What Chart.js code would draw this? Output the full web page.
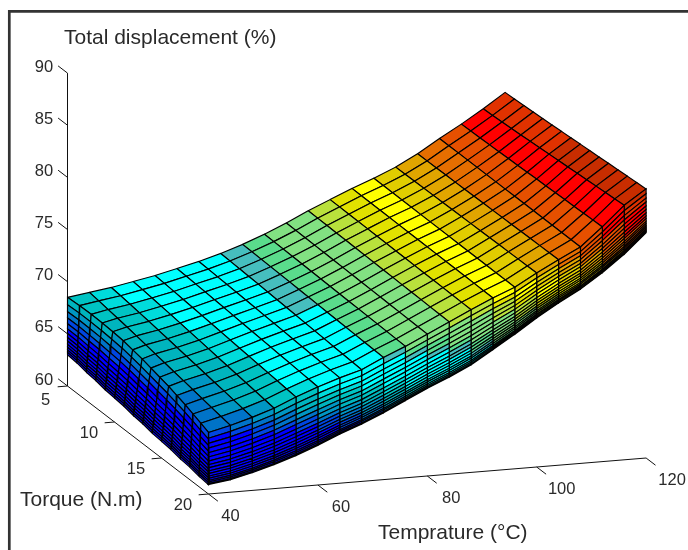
<!DOCTYPE html>
<html><head><meta charset="utf-8">
<style>html,body{margin:0;padding:0;background:#fff}canvas{display:block}</style>
<script src="https://cdn.jsdelivr.net/npm/chart.js@4"></script>
</head><body><canvas id="c" width="688" height="550"></canvas>
<script>
// ---- values ----
const temperatureTicks = [40, 60, 80, 100, 120];
const torqueTicks = [5, 10, 15, 20];
const displacementTicks = [60, 65, 70, 75, 80, 85, 90];
const temperatureNodes = [40,44,48,52,56,60,64,68,72,76,80,84,88,92,96,100,104,108,112,116,120];
const torqueNodes = [5,6,7,8,9,10,11,12,13,14,15,16,17,18,19,20];
// top sheet height along the torque = 5 edge, per temperature node
const topAtTorque5 = [68.5,68.8,69.1,69.5,69.9,70.4,70.9,71.5,72.2,73.0,73.9,74.9,75.8,76.7,77.5,78.4,79.5,80.8,82.0,83.3,84.7];
// top sheet height along the torque = 20 fold, per temperature node
const topAtTorque20 = [65.9,66.4,67.0,67.7,68.6,69.4,70.1,70.7,71.7,72.6,73.6,74.6,75.6,76.55,77.4,78.6,79.7,80.75,82.5,84.4,85.8];
// lower rim of the front wall (torque = 20), per temperature node
const rimAtTorque20 = [60.9,61.2,61.7,62.3,63.0,63.8,64.7,65.5,66.4,67.4,68.4,69.3,70.3,71.6,72.9,74.3,75.55,76.7,78.1,79.7,81.6];
// lower rim of the left wall (temperature = 40), per torque node
const rimAtTemp40 = [63.0,62.9,62.7,62.6,62.4,62.3,62.2,62.0,61.9,61.7,61.6,61.5,61.3,61.2,61.0,60.9];
// how far each torque node sits between the two top-sheet edges
const torqueShare = [0,.05,.11,.17,.23,.30,.37,.44,.51,.58,.65,.72,.79,.86,.93,1];
// mesh rows down the front wall and mesh columns up the left wall
const frontWallRows = [.11,.21,.30,.39,.47,.55,.62,.68,.74,.79,.84,.88,.92,.95,.98,1];
const leftWallCols = [1,.96,.92,.87,.82,.76,.70,.63,.55,.46,.36,.25,.13];
// temperature lean of the left wall's mesh lines, per torque node
const leftWallLean = [0,.5,.9,1.2,1.4,1.6,1.6,1.6,1.5,1.4,1.3,1.1,.9,.6,.3,0];
// colour bands: upper displacement limit and colour
const bandLimits = [65.5,66.2,66.8,67.5,68.2,68.7,69.1,71.5,72.1,72.8,74.8,75.8,76.6,77.5,78.5,79.5,80.5,82.2,83.7,84.5,999];
const bandColors = ['#0000ff','#0046e1','#0073c8','#0096c3','#00b4be','#00c3c3','#00dcdc','#00ffff','#46bebe','#5adc8c','#82e182','#b9e13c','#e1e100','#ffff00','#e1cd00','#e1a500','#e66e00','#e65000','#ff0000','#e13200','#c82d00'];

// ---- view of the 3D box onto the chart's two linear scales ----
const view = (T, q, z) => ({
  x: 67.5 + 9.4 * (q - 5) + 5.47 * (T - 40),
  y: 386 + 7.2 * (q - 5) - 0.45 * (T - 40) - 10.43 * (z - 60)
});

// ---- mesh table built from the arrays above ----
const colCount = leftWallCols.length + temperatureNodes.length;
const rowCount = torqueNodes.length + frontWallRows.length;
function node(i, j) {
  const wallCols = leftWallCols.length;
  const k = Math.max(0, i - wallCols);
  const jj = Math.min(j, torqueNodes.length - 1);
  const top = topAtTorque5[k] + torqueShare[jj] * (topAtTorque20[k] - topAtTorque5[k]);
  let z = top;
  let T = temperatureNodes[k];
  if (i < wallCols) {
    z = top - leftWallCols[i] * (top - rimAtTemp40[jj]);
    T += leftWallLean[jj] * (1 - leftWallCols[i]);
  } else if (i === wallCols) {
    T += leftWallLean[jj];
  }
  if (j >= torqueNodes.length) {
    const f = frontWallRows[j - torqueNodes.length];
    z = Math.min(z, top - f * (top - rimAtTorque20[k]));
  }
  return { T, q: torqueNodes[jj], z };
}
const cells = [];
for (let i = 0; i < colCount - 1; i++) {       // near (low temperature) first: first dataset is painted last
  for (let j = rowCount - 2; j >= 0; j--) {
    const c = [node(i, j), node(i + 1, j), node(i + 1, j + 1), node(i, j + 1)];
    const mean = (c[0].z + c[1].z + c[2].z + c[3].z) / 4;
    const b = bandLimits.findIndex(l => mean < l);
    const pts = [c[0], c[1], c[2], c[3], c[0]].map(n => view(n.T, n.q, n.z));
    cells.push({
      type: 'scatter', data: pts, showLine: true, fill: 'shape', tension: 0,
      backgroundColor: bandColors[b], borderColor: '#000', borderWidth: 1.15,
      pointRadius: 0, pointHoverRadius: 0
    });
  }
}
const axisLine = pts => ({ type: 'scatter', data: pts, showLine: true, fill: false, borderColor: '#111', borderWidth: 1, pointRadius: 0, tension: 0 });
const axes = [];
axes.push(axisLine([view(40, 5, 60), view(40, 5, 90)]));
axes.push(axisLine([view(40, 5, 60), view(40, 20, 60)]));
axes.push(axisLine([view(40, 20, 60), view(120, 20, 60)]));
displacementTicks.forEach(z => axes.push(axisLine([view(40, 5, z), view(40, 4, z)])));
torqueTicks.forEach(q => axes.push(axisLine([view(40, q, 60), view(38.2, q, 60)])));
temperatureTicks.forEach(T => axes.push(axisLine([view(T, 20, 60), view(T, 21, 60)])));

const labelsPlugin = {
  id: 'labels',
  afterDraw(chart) {
    const { ctx, scales: { x, y } } = chart;
    const px = p => ({ x: x.getPixelForValue(p.x), y: y.getPixelForValue(p.y) });
    ctx.save();
    ctx.fillStyle = '#2a2a2a';
    ctx.textBaseline = 'middle';
    ctx.textAlign = 'center';
    ctx.font = '16.5px "Liberation Sans", Arial, sans-serif';
    displacementTicks.forEach(z => { const p = px(view(40, 5, z)); ctx.fillText(String(z), p.x - 23.5, p.y - 6); });
    torqueTicks.forEach(q => { const p = px(view(40, q, 60)); ctx.fillText(String(q), p.x - (q === 5 ? 22 : 25.5), p.y + (q === 5 ? 14 : 11.5)); });
    temperatureTicks.forEach(T => { const p = px(view(T, 20, 60)); ctx.fillText(String(T), p.x + 22 + (T - 40) * 0.05, p.y + 22); });
    ctx.textAlign = 'left';
    ctx.font = '21px "Liberation Sans", Arial, sans-serif';
    ctx.fillText('Total displacement (%)', 64, 38);
    ctx.fillText('Torque (N.m)', 20, 500);
    ctx.fillText('Temprature (°C)', 378, 533);
    ctx.strokeStyle = '#333';
    ctx.lineWidth = 2.7;
    ctx.beginPath();
    ctx.moveTo(9.3, 550); ctx.lineTo(9.3, 11.3); ctx.lineTo(688, 11.3);
    ctx.stroke();
    ctx.restore();
  }
};

new Chart(document.getElementById('c'), {
  type: 'scatter',
  data: { datasets: cells.concat(axes) },
  plugins: [labelsPlugin],
  options: {
    responsive: false, animation: false, events: [],
    layout: { padding: 0 },
    clip: false,
    plugins: { legend: { display: false }, tooltip: { enabled: false }, title: { display: false } },
    scales: {
      x: { type: 'linear', min: 0, max: 688, display: false },
      y: { type: 'linear', min: 0, max: 550, reverse: true, display: false }
    }
  }
});
</script></body></html>
